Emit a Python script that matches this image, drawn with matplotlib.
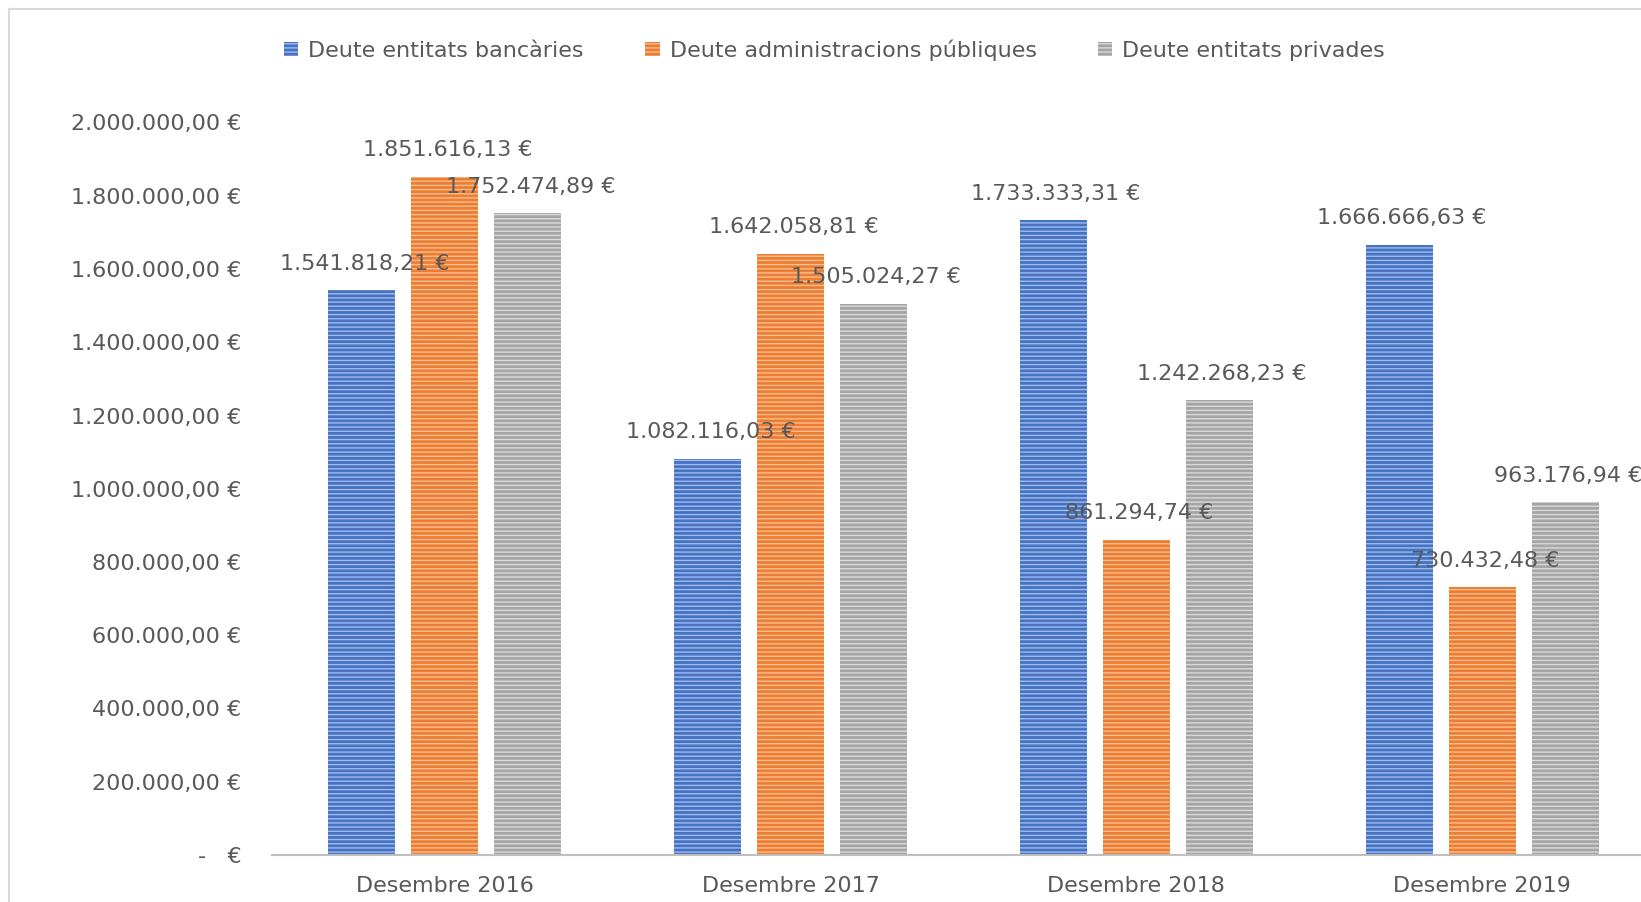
import numpy as np
import matplotlib
matplotlib.use("Agg")
import matplotlib.pyplot as plt
from matplotlib.patches import Patch
from matplotlib.lines import Line2D
from matplotlib.ticker import FuncFormatter

categories = ["Desembre 2016", "Desembre 2017", "Desembre 2018", "Desembre 2019"]
series_names = ["Deute entitats bancàries", "Deute administracions públiques", "Deute entitats privades"]
bancaries = [1541818.21, 1082116.03, 1733333.31, 1666666.63]
administracions = [1851616.13, 1642058.81, 861294.74, 730432.48]
privades = [1752474.89, 1505024.27, 1242268.23, 963176.94]
y_ticks = [0, 200000, 400000, 600000, 800000, 1000000, 1200000, 1400000, 1600000, 1800000, 2000000]

colors = ["#4472C4", "#ED7D31", "#A5A5A5"]
hatch_colors = ["#A3BBE6", "#F9BD92", "#D9D9D9"]
text_color = "#595959"
fs = 16

plt.rcParams["font.family"] = ["DejaVu Sans"]
plt.rcParams["hatch.linewidth"] = 1.0


def euro(v):
    if v == 0:
        return "-   €"
    s = f"{v:,.2f}".replace(",", "X").replace(".", ",").replace("X", ".")
    return s + " €"


fig = plt.figure(figsize=(16.41, 9.02), dpi=100)
ax = fig.add_axes([272 / 1641, 47 / 902, 1383 / 1641, 732.5 / 902])

x = np.arange(len(categories))
width = 0.194
step = 0.24
for i, (vals, name) in enumerate(zip([bancaries, administracions, privades], series_names)):
    pos = x + (i - 1) * step
    ax.bar(pos, vals, width, color=colors[i], edgecolor=hatch_colors[i],
           linewidth=0, hatch="----", label=name)
    for px, v in zip(pos, vals):
        ax.annotate(euro(v), (px, v), xytext=(2, 19), textcoords="offset points",
                    ha="center", va="center", fontsize=fs, color=text_color,
                    annotation_clip=False)

ax.set_xlim(-0.5, 3.5)
ax.set_ylim(0, 2000000)
ax.set_yticks(y_ticks)
ax.yaxis.set_major_formatter(FuncFormatter(lambda v, p: euro(v)))
ax.set_xticks(x)
ax.set_xticklabels(categories)
ax.tick_params(axis="both", length=0, labelsize=fs, labelcolor=text_color)
ax.tick_params(axis="y", pad=22)
ax.tick_params(axis="x", pad=15)
for s in ["top", "right", "left"]:
    ax.spines[s].set_visible(False)
ax.spines["bottom"].set_color("#BFBFBF")
ax.spines["bottom"].set_linewidth(1.5)

handles = [Patch(facecolor=colors[i], edgecolor=hatch_colors[i], linewidth=0, hatch="----")
           for i in range(3)]
fig.legend(handles, series_names, loc="center left", bbox_to_anchor=(284 / 1641, 1 - 50 / 902),
           ncol=3, frameon=False, fontsize=fs, labelcolor=text_color,
           handlelength=0.65, handleheight=0.65, handletextpad=0.45, columnspacing=2.75,
           borderaxespad=0, borderpad=0)

# chart area border (cropped screenshot)
fig.add_artist(Line2D([9 / 1641, 9 / 1641], [0, 1 - 9 / 902], color="#D9D9D9", lw=1.5))
fig.add_artist(Line2D([9 / 1641, 1], [1 - 9 / 902, 1 - 9 / 902], color="#D9D9D9", lw=1.5))

fig.savefig("out.png", dpi=100, facecolor="white")
